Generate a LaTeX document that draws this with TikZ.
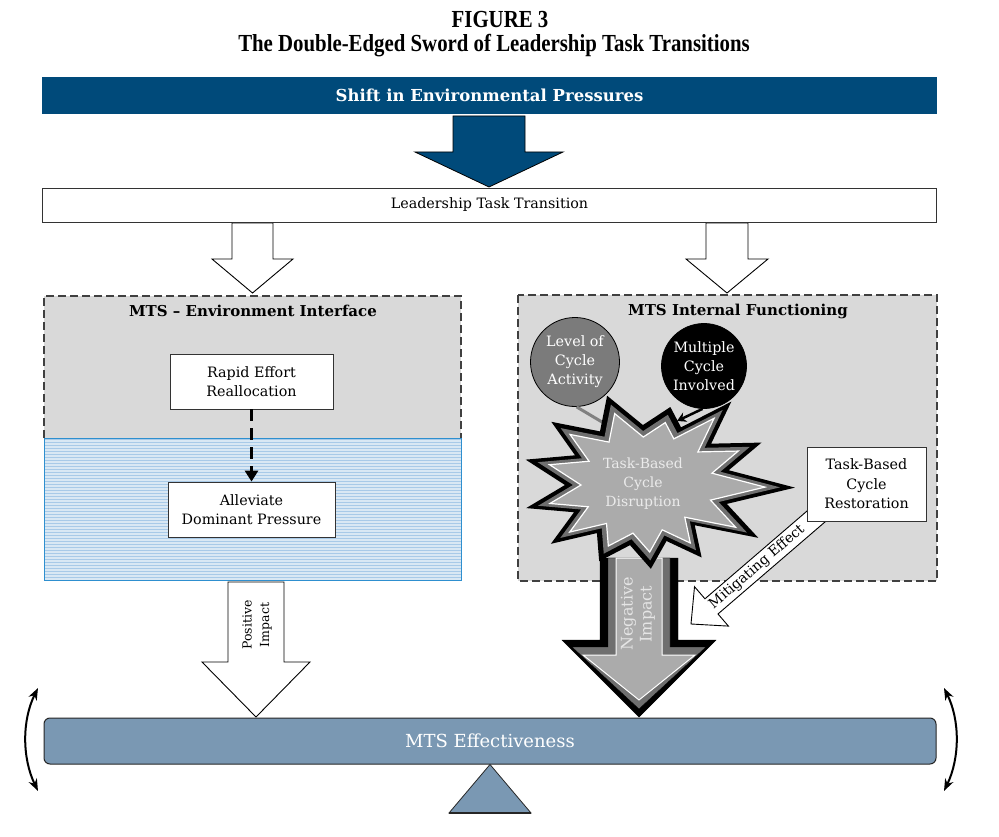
\documentclass[tikz,border=0pt]{standalone}
\usepackage{fontspec}
\setmainfont{DejaVu Serif}
\newfontfamily\titlefont[FakeStretch=0.85]{Liberation Serif}
\usepackage{tikz}
\usetikzlibrary{arrows.meta,positioning,calc}

\definecolor{navy}{HTML}{004A7A}
\definecolor{panelgray}{HTML}{D9D9D9}
\definecolor{stripeblue}{HTML}{A8CAE8}
\definecolor{stripelight}{HTML}{D9E8F4}
\definecolor{edgeblue}{HTML}{2E8FCF}
\definecolor{balance}{HTML}{7A98B3}
\definecolor{burstmid}{HTML}{6F6F6F}
\definecolor{burstlight}{HTML}{ABABAB}
\definecolor{bubblegray}{HTML}{7B7B7B}

% block arrow pointing down: style, centre x, top, shaft half, head half, head start, tip
\newcommand\blockdown[7]{%
  \draw[#1] (#2-#4,#3) -- (#2+#4,#3) -- (#2+#4,#6) -- (#2+#5,#6) -- (#2,#7)
    -- (#2-#5,#6) -- (#2-#4,#6) -- cycle;}

% the disruption burst, drawn round the local origin
\newcommand\burst[2]{%
  \path[#1, scale=#2] (-1:150) -- (10:85) -- (20:124) -- (32:78) -- (44:120)
    -- (58:68) -- (72:82) -- (92:60) -- (113:97) -- (130:70) -- (146:113)
    -- (157:76) -- (168:122) -- (180:80) -- (191:121) -- (201:76) -- (212:111)
    -- (225:68) -- (239:89) -- (256:62) -- (274:84) -- (291:60) -- (308:92)
    -- (321:64) -- (335:125) -- (347:84) -- cycle;}

\begin{document}
\begin{tikzpicture}[
  x=1pt, y=-1pt,
  font=\fontsize{14.3}{19.5}\selectfont,
  >=Stealth,
  box/.style={draw=black!80, fill=white, align=center, line width=0.8pt},
  dashedge/.style={draw=black!75, line width=1.2pt, dash pattern=on 8pt off 4pt},
  heading/.style={font=\fontsize{15}{18}\selectfont\bfseries},
  bubble/.style={circle, draw=black, line width=0.8pt, align=center,
    text=white, inner sep=0pt, font=\fontsize{14.3}{19}\selectfont},
  hollow/.style={draw=black, fill=white, line width=0.9pt},
  titletext/.style={font=\titlefont\bfseries\fontsize{24.5}{28}\selectfont}
]
  \useasboundingbox (0,0) rectangle (999,837);
  \fill[white] (0,0) rectangle (999,837);

  % Title
  \node[titletext] (figno) at (500,20) {FIGURE 3};
  \node[titletext] (figtitle) at (494,46) {The Double-Edged Sword of Leadership Task Transitions};

  % Pressures and transition
  \node[fill=navy, text=white, minimum width=895pt, minimum height=37pt,
    font=\fontsize{16.5}{19}\selectfont\bfseries] (shift) at (489.5,95.5)
    {Shift in Environmental Pressures};
  \blockdown{fill=navy, draw=black, line width=0.8pt}{489}{116}{36}{74}{152}{187}
  \node[box, minimum width=894pt, minimum height=34pt,
    font=\fontsize{14.3}{17}\selectfont] (transition) at (489.5,205)
    {Leadership Task Transition};
  \blockdown{hollow}{252.5}{223}{20.5}{40.5}{259}{293}
  \blockdown{hollow}{727}{223}{21}{41}{259}{293}

  % Left panel
  \fill[panelgray] (44,296) rectangle (461,438);
  \draw[dashedge] (44,438) -- (44,296) -- (461,296) -- (461,438);
  \fill[stripelight] (44,438) rectangle (461,580);
  \foreach \yy in {439.5,442.5,...,579}
    \draw[stripeblue, line width=1.5pt] (44,\yy) -- (461,\yy);
  \draw[edgeblue, line width=0.9pt] (44,438) rectangle (461,580);
  \node[heading] (envhead) at (253,311) {MTS -- Environment Interface};
  \node[box, minimum width=163pt, minimum height=55pt] (rapid) at (251.5,381.5)
    {Rapid Effort\\Reallocation};
  \node[box, minimum width=167pt, minimum height=55pt] (alleviate) at (251.5,509.5)
    {Alleviate\\Dominant Pressure};
  \draw[line width=3.5pt, dash pattern=on 12pt off 7pt,
    -{Triangle[length=11pt,width=13pt]}] (rapid) -- (alleviate);

  % Right panel
  \fill[panelgray] (518,295) rectangle (937,581);
  \draw[dashedge] (518,295) rectangle (937,581);
  \node[heading] (inthead) at (738,311) {MTS Internal Functioning};

  % Positive impact
  \blockdown{hollow}{256}{582}{28}{54}{662}{717}
  \node[rotate=90, align=center, font=\fontsize{12.5}{17.5}\selectfont] (positive)
    at (257,625) {Positive\\Impact};

  % Negative impact
  \blockdown{fill=black, draw=black}{639}{558}{39}{77}{640}{717}
  \blockdown{fill=burstmid}{639}{558}{31}{67}{647}{709}
  \blockdown{fill=burstlight, draw=white, line width=1pt}{639}{558}{23}{56}{655}{700}

  % Mitigating effect
  \begin{scope}[shift={(691,624)}, rotate=40.7]
    \draw[hollow] (0,0) -- (27,-26) -- (27,-10) -- (195,-10) -- (195,10)
      -- (27,10) -- (27,26) -- cycle;
  \end{scope}
  \node[rotate=40.7, font=\fontsize{14}{15}\selectfont] (mitigating) at (757,567)
    {Mitigating Effect};
  \node[box, minimum width=119pt, minimum height=74pt] (restore) at (866.5,484)
    {Task-Based\\Cycle\\Restoration};

  % Disruption
  \node[bubble, fill=bubblegray, minimum size=89pt] (level) at (575,362)
    {Level of\\Cycle\\Activity};
  \node[bubble, fill=black, minimum size=85pt] (multiple) at (704,366)
    {Multiple\\Cycle\\Involved};
  \coordinate (levelend) at (607,425);
  \draw[black!50, line width=3pt] (level.-88) -- (levelend);
  \begin{scope}[shift={(645,485)}, y=1pt]
    \burst{fill=black}{1}
    \burst{fill=burstmid}{0.9}
    \burst{fill=burstlight, draw=white, line width=1.2pt}{0.8}
  \end{scope}
  \node[align=center, text=white!92!black, font=\fontsize{14}{19}\selectfont]
    (disruption) at (643,484) {Task-Based\\Cycle\\Disruption};
  \coordinate (multend) at (677,421);
  \draw[line width=2.5pt, -{Stealth[length=9pt,width=10pt]}] (multiple.-92) -- (multend);
  \node[rotate=90, align=center, text=white!90!black,
    font=\fontsize{16}{19}\selectfont] (negative) at (638,614) {Negative\\Impact};

  % Balance
  \node[draw=black!85, line width=1pt, fill=balance, rounded corners=6pt,
    minimum width=892pt, minimum height=46pt, text=white,
    font=\fontsize{18}{20}\selectfont] (effect) at (490,741) {MTS Effectiveness};
  \draw[fill=balance, draw=black!85, line width=0.8pt] (effect.south) -- (531,813)
    -- (449,813) -- cycle;
  \draw[black!85, line width=2pt] (449,813) -- (531,813);
  \draw[<->, line width=2pt] (38,688) .. controls (22,720) and (22,758) .. (38,791);
  \draw[<->, line width=2pt] (944,688) .. controls (960,720) and (960,758) .. (944,791);
\end{tikzpicture}
\end{document}
